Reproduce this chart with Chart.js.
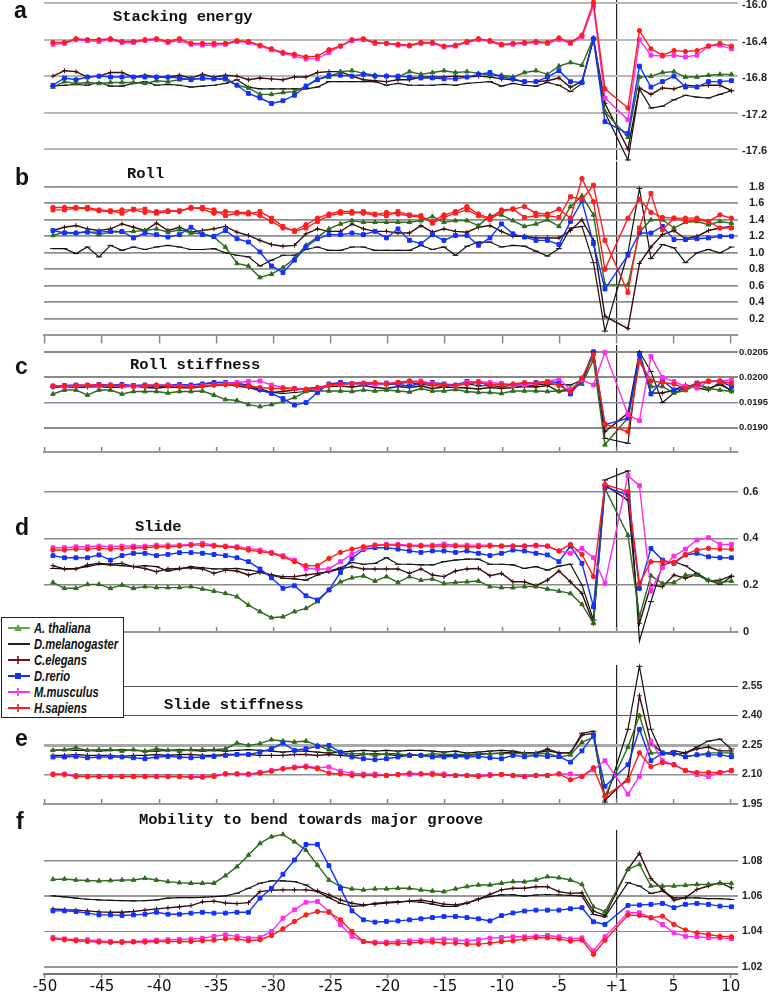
<!DOCTYPE html>
<html>
<head>
<meta charset="utf-8">
<title>DNA structural profiles</title>
<script src="https://cdn.jsdelivr.net/npm/chart.js@4.4.1/dist/chart.umd.min.js"></script>
<style>
  html, body { margin: 0; padding: 0; background: #fff; }
  #wrap { position: relative; width: 769px; height: 992px; overflow: hidden; background: #fff; }
  #wrap canvas { position: absolute; left: 0; }
  .letter { position: absolute; font: bold 23px "Liberation Sans", Arial, sans-serif; color: #111; line-height: 23px; }
  .ptitle { position: absolute; font: bold 15.5px "Liberation Mono", "Courier New", monospace; color: #111; line-height: 15.5px; white-space: pre; }
  #legend { position: absolute; left: 1px; top: 617px; width: 121px; height: 99px; border: 1.5px solid #222; background: #fff; }
  .lrow { position: absolute; left: 0; height: 16px; width: 121px; }
  .lrow svg { position: absolute; left: 3px; top: 1px; }
  .lrow span { position: absolute; left: 32px; top: 0; font: italic bold 14px "Liberation Sans", sans-serif; color: #111; white-space: nowrap; line-height: 16px; transform: scaleX(0.8); transform-origin: 0 50%; }
</style>
</head>
<body>
<div id="wrap">
  <canvas id="pa"></canvas>
  <canvas id="pb"></canvas>
  <canvas id="pc"></canvas>
  <canvas id="pd"></canvas>
  <canvas id="pe"></canvas>
  <canvas id="pf"></canvas>

  <div class="letter" style="left:14px;top:-1px">a</div>
  <div class="letter" style="left:15px;top:166px">b</div>
  <div class="letter" style="left:15px;top:355px">c</div>
  <div class="letter" style="left:15px;top:516px">d</div>
  <div class="letter" style="left:15px;top:727px">e</div>
  <div class="letter" style="left:16px;top:810px">f</div>

  <div class="ptitle" style="left:113px;top:10px">Stacking energy</div>
  <div class="ptitle" style="left:127px;top:167px">Roll</div>
  <div class="ptitle" style="left:130px;top:358px">Roll stiffness</div>
  <div class="ptitle" style="left:135px;top:520px">Slide</div>
  <div class="ptitle" style="left:164px;top:698px">Slide stiffness</div>
  <div class="ptitle" style="left:139px;top:813px">Mobility to bend towards major groove</div>

  <div id="legend"></div>
</div>

<script>
// Positions along the promoter: index 0..59, index 49 is the gap at the TSS line
const xTickLabels = ['-50', '-45', '-40', '-35', '-30', '-25', '-20', '-15', '-10', '-5', '+1', '5', '10'];
const seriesNames = ['A. thaliana', 'D.melanogaster', 'C.elegans', 'D.rerio', 'M.musculus', 'H.sapiens'];

// a - Stacking energy
const stackTicks = [-17.6, -17.2, -16.8, -16.4, -16.0];
const stackAt = [
  -16.92,-16.86,-16.88,-16.87,-16.88,-16.87,-16.87,-16.87,-16.88,-16.85,
  -16.86,-16.84,-16.83,-16.83,-16.83,-16.84,-16.90,-16.93,-17.00,-17.00,
  -16.98,-16.97,-16.91,-16.83,-16.81,-16.75,-16.74,-16.77,-16.79,-16.80,
  -16.81,-16.75,-16.78,-16.76,-16.74,-16.76,-16.75,-16.77,-16.79,-16.79,
  -16.81,-16.76,-16.74,-16.78,-16.69,-16.65,-16.68,-16.38,-17.19,null,
  -17.47,-16.81,-16.80,-16.76,-16.75,-16.81,-16.81,-16.79,-16.78,-16.78];
const stackDm = [
  -16.91,-16.90,-16.89,-16.90,-16.87,-16.91,-16.91,-16.88,-16.86,-16.90,
  -16.89,-16.90,-16.92,-16.91,-16.90,-16.88,-16.84,-16.92,-16.94,-16.94,
  -16.94,-16.94,-16.94,-16.92,-16.86,-16.86,-16.86,-16.86,-16.86,-16.90,
  -16.88,-16.90,-16.90,-16.90,-16.89,-16.90,-16.88,-16.87,-16.86,-16.91,
  -16.88,-16.90,-16.91,-16.87,-16.90,-16.97,-16.88,-16.39,-17.20,null,
  -17.72,-16.94,-17.15,-17.13,-17.06,-17.01,-17.03,-17.04,-17.00,-16.96];
const stackCe = [
  -16.80,-16.74,-16.75,-16.81,-16.80,-16.76,-16.76,-16.81,-16.79,-16.81,
  -16.81,-16.79,-16.82,-16.78,-16.81,-16.79,-16.80,-16.84,-16.82,-16.83,
  -16.84,-16.81,-16.81,-16.76,-16.75,-16.75,-16.80,-16.84,-16.85,-16.86,
  -16.84,-16.84,-16.81,-16.81,-16.81,-16.80,-16.81,-16.80,-16.81,-16.83,
  -16.84,-16.86,-16.86,-16.85,-16.82,-16.92,-16.86,-16.39,-17.10,null,
  -17.60,-16.93,-17.00,-16.93,-16.94,-16.90,-16.91,-16.90,-16.90,-16.96];
const stackDr = [
  -16.90,-16.82,-16.84,-16.81,-16.80,-16.81,-16.81,-16.81,-16.81,-16.81,
  -16.81,-16.82,-16.84,-16.82,-16.83,-16.82,-16.90,-16.99,-17.04,-17.10,
  -17.07,-17.01,-16.91,-16.84,-16.79,-16.79,-16.80,-16.78,-16.80,-16.80,
  -16.80,-16.81,-16.82,-16.82,-16.83,-16.83,-16.81,-16.78,-16.76,-16.81,
  -16.83,-16.86,-16.86,-16.81,-16.74,-16.86,-16.87,-16.39,-17.30,null,
  -17.43,-16.69,-16.92,-16.86,-16.80,-16.92,-16.92,-16.86,-16.86,-16.85];
const stackMm = [
  -16.45,-16.44,-16.40,-16.41,-16.42,-16.40,-16.43,-16.43,-16.41,-16.40,
  -16.43,-16.41,-16.45,-16.46,-16.46,-16.45,-16.42,-16.43,-16.47,-16.51,
  -16.55,-16.58,-16.61,-16.61,-16.54,-16.47,-16.41,-16.40,-16.44,-16.44,
  -16.46,-16.47,-16.44,-16.44,-16.48,-16.47,-16.43,-16.40,-16.42,-16.46,
  -16.45,-16.44,-16.43,-16.44,-16.40,-16.44,-16.37,-16.03,-17.04,null,
  -17.28,-16.40,-16.57,-16.58,-16.57,-16.59,-16.57,-16.47,-16.46,-16.50];
const stackHs = [
  -16.43,-16.43,-16.39,-16.40,-16.40,-16.39,-16.42,-16.42,-16.40,-16.39,
  -16.42,-16.39,-16.44,-16.44,-16.44,-16.44,-16.41,-16.42,-16.46,-16.50,
  -16.54,-16.56,-16.59,-16.58,-16.51,-16.47,-16.40,-16.39,-16.43,-16.44,
  -16.45,-16.46,-16.43,-16.43,-16.47,-16.46,-16.42,-16.39,-16.41,-16.45,
  -16.44,-16.43,-16.42,-16.43,-16.38,-16.43,-16.35,-15.99,-16.94,null,
  -17.15,-16.30,-16.50,-16.57,-16.52,-16.53,-16.52,-16.47,-16.44,-16.47];

// b - Roll
const rollTicks = [0.2, 0.4, 0.6, 0.8, 1.0, 1.2, 1.4, 1.6, 1.8];
const rollAt = [
  1.21,1.25,1.24,1.26,1.22,1.25,1.25,1.26,1.27,1.29,
  1.25,1.28,1.24,1.23,1.19,1.07,0.87,0.84,0.70,0.74,
  0.82,0.93,1.09,1.19,1.29,1.35,1.39,1.37,1.37,1.37,
  1.37,1.37,1.39,1.44,1.37,1.39,1.39,1.33,1.45,1.46,
  1.39,1.32,1.35,1.40,1.32,1.56,1.69,1.46,0.61,null,
  0.61,1.25,1.40,1.40,1.30,1.37,1.38,1.34,1.38,1.36];
const rollDm = [
  1.05,1.05,0.99,1.07,0.95,1.09,1.03,1.07,1.04,1.07,
  1.09,1.07,1.04,1.04,1.05,1.00,0.97,0.95,0.84,0.91,
  0.97,0.97,1.04,1.07,1.03,1.03,1.07,1.07,1.03,1.03,
  1.03,1.03,1.09,1.04,1.07,0.97,1.08,1.13,1.13,1.07,
  1.09,1.08,1.02,0.96,1.05,1.30,1.32,0.88,0.05,null,
  1.00,1.78,0.93,1.10,1.06,0.88,1.00,1.04,1.00,1.07];
const rollCe = [
  1.27,1.31,1.33,1.29,1.27,1.29,1.35,1.31,1.27,1.36,
  1.27,1.31,1.25,1.27,1.29,1.32,1.25,1.21,1.15,1.10,
  1.08,1.09,1.23,1.29,1.26,1.26,1.35,1.29,1.26,1.26,
  1.24,1.24,1.33,1.25,1.29,1.26,1.25,1.31,1.33,1.26,
  1.20,1.20,1.18,1.18,1.18,1.27,1.40,1.15,0.23,null,
  0.08,0.87,1.07,1.22,1.27,1.17,1.20,1.27,1.30,1.32];
const rollDr = [
  1.27,1.24,1.24,1.25,1.25,1.26,1.26,1.18,1.24,1.22,
  1.19,1.22,1.31,1.22,1.20,1.27,1.17,1.13,1.01,0.84,
  0.76,0.91,1.07,1.17,1.22,1.22,1.24,1.22,1.26,1.18,
  1.29,1.15,1.11,1.22,1.15,1.21,1.21,1.09,1.18,1.35,
  1.23,1.19,1.15,1.15,1.10,1.38,1.63,1.11,0.56,null,
  0.97,1.24,1.24,1.32,1.16,1.16,1.17,1.18,1.20,1.20];
const rollMm = [
  1.52,1.52,1.54,1.55,1.52,1.51,1.48,1.53,1.53,1.48,
  1.50,1.51,1.54,1.55,1.52,1.45,1.48,1.47,1.50,1.42,
  1.32,1.26,1.30,1.38,1.45,1.48,1.48,1.50,1.47,1.45,
  1.50,1.46,1.45,1.36,1.43,1.48,1.52,1.45,1.40,1.50,
  1.53,1.43,1.45,1.45,1.43,1.68,1.65,1.82,1.15,null,
  0.52,1.30,1.72,1.28,1.42,1.38,1.40,1.38,1.30,1.30];
const rollHs = [
  1.55,1.55,1.55,1.53,1.51,1.50,1.52,1.52,1.49,1.50,
  1.51,1.50,1.55,1.53,1.48,1.50,1.49,1.49,1.45,1.38,
  1.30,1.27,1.34,1.42,1.47,1.50,1.50,1.48,1.46,1.49,
  1.47,1.45,1.43,1.38,1.46,1.50,1.56,1.47,1.42,1.52,
  1.53,1.56,1.48,1.47,1.53,1.42,1.90,1.62,0.80,null,
  1.42,1.65,1.49,1.43,1.42,1.42,1.42,1.38,1.46,1.42];

// c - Roll stiffness
const rollStTicks = [0.0190, 0.0195, 0.0200, 0.0205];
const rollStAt = [
  0.01967,0.01975,0.01975,0.01965,0.01975,0.01975,0.01967,0.01972,0.01972,0.01972,
  0.01969,0.01972,0.01972,0.01973,0.01965,0.01956,0.01954,0.01946,0.01942,0.01946,
  0.01952,0.01960,0.01972,0.01973,0.01973,0.01973,0.01972,0.01975,0.01973,0.01975,
  0.01973,0.01971,0.01978,0.01973,0.01973,0.01976,0.01972,0.01970,0.01970,0.01968,
  0.01973,0.01973,0.01973,0.01972,0.01973,0.01978,0.01987,0.02035,0.01866,null,
  0.01920,0.02035,0.01982,0.01982,0.01969,0.01974,0.01985,0.01978,0.01975,0.01972];
const rollStDm = [
  0.01982,0.01982,0.01984,0.01982,0.01985,0.01983,0.01984,0.01982,0.01983,0.01982,
  0.01983,0.01981,0.01985,0.01987,0.01989,0.01990,0.01988,0.01985,0.01978,0.01970,
  0.01968,0.01970,0.01972,0.01976,0.01985,0.01987,0.01988,0.01990,0.01988,0.01986,
  0.01988,0.01990,0.01986,0.01984,0.01982,0.01985,0.01988,0.01983,0.01984,0.01981,
  0.01985,0.01982,0.01985,0.01987,0.01986,0.01985,0.01995,0.02051,0.01879,null,
  0.01869,0.02051,0.02012,0.01950,0.01969,0.01979,0.01987,0.01979,0.01985,0.01975];
const rollStCe = [
  0.01980,0.01982,0.01980,0.01981,0.01982,0.01980,0.01981,0.01983,0.01980,0.01979,
  0.01981,0.01980,0.01979,0.01982,0.01984,0.01986,0.01983,0.01980,0.01974,0.01970,
  0.01972,0.01975,0.01978,0.01980,0.01982,0.01983,0.01981,0.01984,0.01980,0.01978,
  0.01982,0.01980,0.01983,0.01978,0.01981,0.01980,0.01979,0.01977,0.01980,0.01978,
  0.01980,0.01982,0.01981,0.01984,0.01972,0.01975,0.01990,0.02048,0.01892,null,
  0.01929,0.02050,0.01969,0.01969,0.01975,0.01985,0.01979,0.01975,0.01990,0.01972];
const rollStDr = [
  0.01982,0.01984,0.01985,0.01984,0.01986,0.01985,0.01986,0.01984,0.01985,0.01984,
  0.01985,0.01986,0.01985,0.01987,0.01990,0.01990,0.01988,0.01983,0.01976,0.01968,
  0.01958,0.01945,0.01950,0.01970,0.01987,0.01990,0.01988,0.01987,0.01986,0.01989,
  0.01986,0.01983,0.01988,0.01990,0.01987,0.01985,0.01992,0.01990,0.01985,0.01987,
  0.01985,0.01988,0.01990,0.01992,0.01990,0.01967,0.01995,0.02051,0.01906,null,
  0.01919,0.02045,0.01967,0.01995,0.01975,0.01979,0.01989,0.01992,0.01992,0.01982];
const rollStMm = [
  0.01983,0.01982,0.01983,0.01984,0.01983,0.01985,0.01983,0.01982,0.01983,0.01984,
  0.01985,0.01983,0.01982,0.01984,0.01985,0.01988,0.01990,0.01992,0.01993,0.01985,
  0.01980,0.01978,0.01976,0.01978,0.01984,0.01986,0.01988,0.01989,0.01986,0.01988,
  0.01990,0.01992,0.01993,0.01988,0.01985,0.01983,0.01990,0.01992,0.01990,0.01988,
  0.01984,0.01986,0.01988,0.01992,0.01997,0.01976,0.01995,0.01985,0.02050,null,
  0.01926,0.01914,0.02042,0.02000,0.01992,0.01982,0.01979,0.01992,0.01993,0.01995];
const rollStHs = [
  0.01983,0.01983,0.01984,0.01985,0.01985,0.01984,0.01984,0.01983,0.01984,0.01985,
  0.01983,0.01982,0.01981,0.01983,0.01985,0.01986,0.01985,0.01983,0.01980,0.01978,
  0.01978,0.01978,0.01975,0.01980,0.01985,0.01987,0.01988,0.01988,0.01990,0.01987,
  0.01990,0.01993,0.01990,0.01986,0.01985,0.01984,0.01987,0.01990,0.01986,0.01985,
  0.01987,0.01990,0.01988,0.01990,0.01984,0.01972,0.01999,0.02045,0.01907,null,
  0.01892,0.02032,0.01993,0.01990,0.01987,0.01978,0.01987,0.01993,0.01993,0.01988];

// d - Slide
const slideTicks = [0, 0.2, 0.4, 0.6];
const slideAt = [
  0.211,0.186,0.186,0.203,0.203,0.186,0.200,0.186,0.193,0.189,
  0.189,0.189,0.193,0.183,0.174,0.164,0.150,0.114,0.086,0.060,
  0.064,0.086,0.100,0.129,0.179,0.214,0.231,0.239,0.217,0.236,
  0.211,0.236,0.221,0.226,0.207,0.211,0.214,0.217,0.193,0.189,
  0.189,0.193,0.193,0.183,0.174,0.164,0.117,0.036,0.614,null,
  0.414,0.064,0.240,0.207,0.211,0.243,0.243,0.221,0.211,0.217];
const slideDm = [
  0.271,0.269,0.271,0.279,0.289,0.286,0.283,0.279,0.283,0.279,
  0.260,0.269,0.279,0.274,0.269,0.269,0.271,0.264,0.257,0.243,
  0.229,0.226,0.221,0.243,0.260,0.274,0.297,0.289,0.293,0.317,
  0.289,0.289,0.286,0.286,0.300,0.307,0.311,0.311,0.289,0.289,
  0.286,0.271,0.279,0.264,0.281,0.289,0.200,0.050,0.650,null,
  0.689,-0.040,0.129,0.286,0.300,0.283,0.250,0.221,0.203,0.236];
const slideCe = [
  0.283,0.269,0.269,0.286,0.293,0.289,0.293,0.279,0.271,0.257,
  0.269,0.271,0.274,0.269,0.250,0.264,0.260,0.243,0.254,0.243,
  0.236,0.236,0.243,0.250,0.257,0.269,0.279,0.269,0.269,0.269,
  0.269,0.250,0.269,0.243,0.236,0.260,0.269,0.271,0.240,0.250,
  0.214,0.214,0.197,0.221,0.260,0.214,0.164,0.036,0.629,null,
  0.564,0.036,0.200,0.193,0.243,0.229,0.246,0.217,0.221,0.239];
const slideDr = [
  0.326,0.317,0.317,0.317,0.329,0.307,0.326,0.336,0.336,0.326,
  0.331,0.339,0.339,0.336,0.331,0.326,0.317,0.300,0.269,0.231,
  0.186,0.197,0.154,0.136,0.179,0.254,0.314,0.353,0.360,0.360,
  0.354,0.346,0.340,0.346,0.346,0.340,0.346,0.336,0.326,0.336,
  0.350,0.346,0.336,0.329,0.300,0.367,0.293,0.107,0.621,null,
  0.586,0.186,0.357,0.307,0.293,0.329,0.336,0.321,0.317,0.317];
const slideMm = [
  0.360,0.360,0.364,0.364,0.367,0.364,0.367,0.367,0.367,0.371,
  0.371,0.371,0.374,0.379,0.371,0.367,0.364,0.357,0.350,0.340,
  0.326,0.307,0.271,0.269,0.269,0.300,0.331,0.357,0.371,0.374,
  0.374,0.371,0.371,0.371,0.376,0.371,0.371,0.371,0.371,0.367,
  0.367,0.367,0.367,0.367,0.346,0.336,0.357,0.317,0.207,null,
  0.669,0.626,0.174,0.274,0.324,0.354,0.393,0.403,0.374,0.374];
const slideHs = [
  0.350,0.350,0.354,0.354,0.357,0.354,0.357,0.360,0.360,0.364,
  0.364,0.367,0.371,0.371,0.367,0.364,0.360,0.350,0.343,0.336,
  0.321,0.300,0.283,0.283,0.314,0.340,0.354,0.364,0.371,0.371,
  0.371,0.367,0.367,0.367,0.367,0.367,0.364,0.364,0.367,0.367,
  0.367,0.367,0.371,0.367,0.346,0.374,0.331,0.236,0.631,null,
  0.600,0.207,0.300,0.300,0.297,0.331,0.350,0.357,0.354,0.354];

// e - Slide stiffness
const slideStTicks = [1.95, 2.10, 2.25, 2.40, 2.55];
const slideStAt = [
  2.223,2.226,2.236,2.223,2.226,2.226,2.219,2.226,2.219,2.231,
  2.223,2.219,2.226,2.226,2.226,2.231,2.260,2.248,2.257,2.277,
  2.270,2.265,2.270,2.248,2.226,2.209,2.206,2.206,2.197,2.206,
  2.206,2.197,2.197,2.206,2.202,2.202,2.202,2.206,2.206,2.206,
  2.206,2.205,2.205,2.208,2.188,2.200,2.264,2.290,1.990,null,
  2.240,2.400,2.210,2.210,2.210,2.190,2.200,2.210,2.210,2.210];
const slideStDm = [
  2.223,2.226,2.223,2.223,2.219,2.223,2.226,2.223,2.219,2.219,
  2.223,2.226,2.223,2.219,2.223,2.219,2.223,2.226,2.223,2.219,
  2.214,2.219,2.219,2.214,2.209,2.214,2.219,2.223,2.219,2.223,
  2.219,2.223,2.223,2.219,2.214,2.219,2.209,2.214,2.219,2.223,
  2.219,2.210,2.210,2.220,2.210,2.210,2.310,2.320,1.960,null,
  2.330,2.650,2.330,2.200,2.220,2.210,2.240,2.270,2.280,2.230];
const slideStCe = [
  2.197,2.197,2.202,2.197,2.197,2.197,2.192,2.197,2.197,2.202,
  2.197,2.202,2.202,2.197,2.197,2.202,2.202,2.202,2.197,2.197,
  2.197,2.202,2.202,2.197,2.202,2.197,2.192,2.202,2.206,2.202,
  2.197,2.202,2.197,2.192,2.197,2.197,2.197,2.202,2.206,2.209,
  2.214,2.210,2.210,2.230,2.210,2.210,2.300,2.310,1.970,null,
  2.080,2.500,2.260,2.210,2.200,2.210,2.230,2.240,2.220,2.220];
const slideStDr = [
  2.189,2.189,2.192,2.185,2.189,2.189,2.189,2.185,2.180,2.189,
  2.192,2.189,2.185,2.189,2.192,2.197,2.202,2.202,2.214,2.231,
  2.260,2.223,2.231,2.243,2.248,2.214,2.189,2.180,2.175,2.180,
  2.189,2.197,2.197,2.189,2.189,2.192,2.189,2.192,2.185,2.180,
  2.197,2.190,2.198,2.192,2.192,2.163,2.220,2.300,2.040,null,
  2.150,2.330,2.170,2.210,2.210,2.190,2.200,2.200,2.200,2.190];
const slideStMm = [
  2.103,2.103,2.095,2.090,2.090,2.090,2.090,2.090,2.090,2.090,
  2.090,2.090,2.090,2.090,2.095,2.103,2.103,2.100,2.112,2.120,
  2.129,2.138,2.143,2.134,2.138,2.117,2.107,2.103,2.103,2.095,
  2.100,2.100,2.103,2.107,2.103,2.095,2.095,2.095,2.100,2.100,
  2.095,2.090,2.095,2.095,2.103,2.103,2.090,2.124,2.170,null,
  2.000,2.090,2.270,2.170,2.150,2.120,2.100,2.090,2.110,2.120];
const slideStHs = [
  2.100,2.100,2.090,2.090,2.090,2.090,2.090,2.090,2.090,2.090,
  2.090,2.090,2.086,2.086,2.090,2.103,2.103,2.103,2.107,2.117,
  2.129,2.134,2.138,2.129,2.107,2.103,2.095,2.095,2.095,2.095,
  2.100,2.107,2.103,2.100,2.095,2.095,2.095,2.090,2.095,2.100,
  2.095,2.090,2.095,2.095,2.103,2.073,2.090,2.134,1.990,null,
  2.070,2.210,2.140,2.160,2.150,2.120,2.110,2.110,2.110,2.120];

// f - Mobility to bend towards major groove
const bendTicks = [1.02, 1.04, 1.06, 1.08];
const bendAt = [
  1.0696,1.0698,1.0692,1.0689,1.0687,1.0689,1.0692,1.0692,1.0702,1.0692,
  1.0683,1.0677,1.0674,1.0674,1.0674,1.0717,1.0768,1.0834,1.0900,1.0938,
  1.0951,1.0909,1.0862,1.0777,1.0692,1.0655,1.0642,1.0636,1.0642,1.0642,
  1.0645,1.0645,1.0636,1.0630,1.0626,1.0642,1.0655,1.0664,1.0664,1.0674,
  1.0683,1.0682,1.0692,1.0711,1.0705,1.0692,1.0667,1.0540,1.0512,null,
  1.0753,1.0781,1.0658,1.0658,1.0658,1.0662,1.0667,1.0667,1.0673,1.0673];
const bendDm = [
  1.0602,1.0596,1.0589,1.0583,1.0579,1.0577,1.0575,1.0574,1.0575,1.0579,
  1.0589,1.0592,1.0592,1.0594,1.0598,1.0602,1.0617,1.0645,1.0674,1.0687,
  1.0687,1.0683,1.0664,1.0626,1.0592,1.0560,1.0542,1.0547,1.0560,1.0566,
  1.0570,1.0570,1.0566,1.0555,1.0542,1.0542,1.0560,1.0585,1.0598,1.0608,
  1.0608,1.0601,1.0607,1.0610,1.0607,1.0605,1.0601,1.0497,1.0483,null,
  1.0677,1.0658,1.0616,1.0629,1.0591,1.0591,1.0591,1.0586,1.0586,1.0582];
const bendCe = [
  1.0528,1.0523,1.0521,1.0517,1.0511,1.0509,1.0509,1.0513,1.0521,1.0528,
  1.0534,1.0540,1.0547,1.0568,1.0572,1.0562,1.0558,1.0564,1.0626,1.0634,
  1.0636,1.0636,1.0636,1.0630,1.0608,1.0579,1.0560,1.0551,1.0555,1.0562,
  1.0566,1.0573,1.0577,1.0568,1.0555,1.0551,1.0562,1.0583,1.0611,1.0636,
  1.0645,1.0645,1.0654,1.0654,1.0626,1.0616,1.0620,1.0516,1.0491,null,
  1.0753,1.0844,1.0700,1.0639,1.0578,1.0592,1.0639,1.0658,1.0677,1.0648];
const bendDr = [
  1.0517,1.0517,1.0513,1.0504,1.0494,1.0494,1.0491,1.0494,1.0498,1.0509,
  1.0498,1.0498,1.0504,1.0509,1.0504,1.0504,1.0509,1.0509,1.0589,1.0645,
  1.0725,1.0806,1.0894,1.0894,1.0774,1.0645,1.0517,1.0466,1.0453,1.0457,
  1.0460,1.0466,1.0472,1.0479,1.0485,1.0485,1.0479,1.0472,1.0460,1.0490,
  1.0505,1.0516,1.0521,1.0521,1.0521,1.0529,1.0535,1.0455,1.0440,null,
  1.0548,1.0550,1.0554,1.0559,1.0535,1.0554,1.0559,1.0554,1.0544,1.0540];
const bendMm = [
  1.0366,1.0358,1.0353,1.0353,1.0347,1.0343,1.0343,1.0343,1.0347,1.0351,
  1.0353,1.0355,1.0357,1.0362,1.0372,1.0381,1.0372,1.0362,1.0366,1.0400,
  1.0475,1.0523,1.0566,1.0570,1.0513,1.0438,1.0372,1.0343,1.0340,1.0340,
  1.0343,1.0347,1.0351,1.0353,1.0357,1.0353,1.0347,1.0353,1.0362,1.0366,
  1.0370,1.0370,1.0373,1.0377,1.0370,1.0358,1.0364,1.0290,1.0370,null,
  1.0506,1.0506,1.0478,1.0440,1.0392,1.0373,1.0370,1.0364,1.0364,1.0358];
const bendHs = [
  1.0358,1.0353,1.0347,1.0343,1.0340,1.0338,1.0338,1.0340,1.0340,1.0343,
  1.0343,1.0343,1.0343,1.0347,1.0351,1.0358,1.0358,1.0347,1.0353,1.0377,
  1.0415,1.0457,1.0494,1.0513,1.0509,1.0466,1.0400,1.0343,1.0334,1.0332,
  1.0332,1.0334,1.0340,1.0340,1.0334,1.0334,1.0328,1.0328,1.0334,1.0343,
  1.0347,1.0358,1.0364,1.0364,1.0358,1.0345,1.0351,1.0270,1.0350,null,
  1.0493,1.0491,1.0478,1.0487,1.0440,1.0408,1.0392,1.0383,1.0373,1.0370];

// styles
const seriesColors = ['#2e6b1c', '#111111', '#3a0c0c', '#1230ff', '#ff2cf0', '#ff1c1c'];
const seriesPoints = ['triangle', 'line', 'cross', 'rect', 'rect', 'circle'];
const seriesRadius = [2.6, 3, 2.4, 2.7, 2.7, 2.2];
const seriesOrder = [3, 5, 4, 2, 1, 0];
const legendColors = ['#62a84c', '#1a2a1a', '#7a1010', '#1230ff', '#ff2cf0', '#ff1c1c'];

const TSS = 10; // index of the "+1" tick
const xTickPos = xTickLabels.map((_, k) => 49 - 4.97 * (TSS - k));
const X_MIN = -0.78, X_MAX = 59.57;

const panels = [
  { id: 'pa', top: 0, bottom: 160, min: -17.7208, max: -15.9638, ticks: stackTicks,
    fmt: v => v.toFixed(1), series: [stackAt, stackDm, stackCe, stackDr, stackMm, stackHs],
    gridColors: ['#b8b8b8', '#b8b8b8', '#b8b8b8', '#b8b8b8', '#b8b8b8'], gridWidths: [2, 2, 2, 2, 2],
    axis: 'none', labelPad: 4, labelSize: 11, labelOffset: 2 },
  { id: 'pb', top: 160, bottom: 337, min: -0.0025, max: 2.1062, ticks: rollTicks,
    fmt: v => v.toFixed(1), series: [rollAt, rollDm, rollCe, rollDr, rollMm, rollHs],
    gridColors: rollTicks.map(() => '#8e8e8e'), gridWidths: rollTicks.map(() => 1.8),
    axis: 'down', labelPad: 11, labelSize: 11, colorOverride: { 4: '#ff2020' } },
  { id: 'pc', top: 345, bottom: 452, min: 0.018517, max: 0.020645, ticks: rollStTicks,
    fmt: v => v.toFixed(4), series: [rollStAt, rollStDm, rollStCe, rollStDr, rollStMm, rollStHs],
    gridColors: ['#8a8a8a', '#8a8aa8', '#8a8a8a', '#8a8a8a'], gridWidths: [2, 1.5, 2, 2],
    axis: 'up', labelPad: 1, labelSize: 9.5 },
  { id: 'pd', top: 468, bottom: 632, min: -0.0013, max: 0.7016, ticks: slideTicks,
    fmt: v => (v === 0 ? '0' : v.toFixed(1)), series: [slideAt, slideDm, slideCe, slideDr, slideMm, slideHs],
    gridColors: ['#999', '#8a8a8a', '#8a8a8a', '#8a8a8a'], gridWidths: [2, 1.6, 1.6, 1.6],
    axis: 'up', labelPad: 5, labelSize: 11 },
  { id: 'pe', top: 665, bottom: 804, min: 1.95, max: 2.6568, ticks: slideStTicks,
    fmt: v => v.toFixed(2), series: [slideStAt, slideStDm, slideStCe, slideStDr, slideStMm, slideStHs],
    gridColors: ['#999', '#909090', '#a8a8a8', '#555', '#555'], gridWidths: [2, 1.5, 3, 1, 1],
    axis: 'up', labelPad: 4, labelSize: 10.5 },
  { id: 'pf', top: 830, bottom: 974, min: 1.01586, max: 1.0976, ticks: bendTicks,
    fmt: v => v.toFixed(2), series: [bendAt, bendDm, bendCe, bendDr, bendMm, bendHs],
    gridColors: ['#999', '#7d86b8', '#999', '#888'], gridWidths: [2, 1, 2, 1.5],
    axis: 'labels', labelPad: 4, labelSize: 10.5 }
];

function xScale(kind) {
  const onlyTss = kind === 'none';
  const showLabels = kind === 'labels';
  let tickLen = 0;
  if (kind === 'down') tickLen = 8;
  if (kind === 'up') tickLen = -5;
  if (kind === 'labels') tickLen = 4;
  return {
    type: 'linear',
    min: X_MIN,
    max: X_MAX,
    afterBuildTicks: ax => {
      ax.ticks = onlyTss ? [{ value: xTickPos[TSS] }] : xTickPos.map(v => ({ value: v }));
    },
    afterFit: ax => { ax.height = showLabels ? 18 : 0; },
    ticks: {
      display: showLabels,
      autoSkip: false,
      maxRotation: 0,
      padding: 0,
      color: '#111',
      font: { family: 'DejaVu Sans', size: 15 },
      callback: (v, i) => xTickLabels[i]
    },
    grid: {
      drawTicks: !onlyTss,
      tickLength: tickLen,
      tickColor: '#888',
      tickWidth: 1.5,
      color: ctx => (onlyTss || ctx.index === TSS ? '#222' : 'rgba(0,0,0,0)'),
      lineWidth: 1.2
    },
    border: { display: !onlyTss, color: kind === 'labels' ? '#777' : '#999', width: 2 }
  };
}

function buildPanel(p) {
  const cv = document.getElementById(p.id);
  const padT = 16;
  const last = p.axis === 'labels';
  const padB = last ? 0 : 16;
  const h = (p.bottom - p.top) + padT + (last ? 18 : padB);
  cv.width = 769;
  cv.height = h;
  cv.style.width = '769px';
  cv.style.height = h + 'px';
  cv.style.top = (p.top - padT) + 'px';

  const datasets = p.series.map((arr, s) => {
    const col = (p.colorOverride && p.colorOverride[s]) || seriesColors[s];
    return {
      label: seriesNames[s],
      data: arr.map((v, i) => ({ x: i, y: v })),
      borderColor: col,
      backgroundColor: col,
      borderWidth: s === 1 ? 1.2 : 1.4,
      pointStyle: seriesPoints[s],
      pointRadius: seriesRadius[s],
      pointBorderWidth: 1,
      pointBackgroundColor: col,
      pointBorderColor: col,
      spanGaps: true,
      clip: false,
      order: seriesOrder[s],
      tension: 0
    };
  });

  new Chart(cv, {
    type: 'line',
    data: { datasets },
    options: {
      responsive: false,
      animation: false,
      devicePixelRatio: 1,
      events: [],
      layout: { padding: { left: 44, right: 0, top: padT, bottom: padB } },
      plugins: { legend: { display: false }, tooltip: { enabled: false } },
      scales: {
        x: xScale(p.axis),
        y: {
          position: 'right',
          min: p.min,
          max: p.max,
          afterBuildTicks: ax => { ax.ticks = p.ticks.map(v => ({ value: v })); },
          afterFit: ax => { ax.width = 31; },
          ticks: {
            autoSkip: false,
            padding: p.labelPad,
            labelOffset: p.labelOffset || 0,
            color: '#222',
            font: { family: 'Liberation Sans', size: p.labelSize, weight: 'bold' },
            callback: v => p.fmt(v)
          },
          grid: {
            drawTicks: false,
            color: ctx => p.gridColors[ctx.index] || '#999',
            lineWidth: ctx => p.gridWidths[ctx.index] || 1.5
          },
          border: { display: false }
        }
      }
    }
  });
}

function buildLegend() {
  const el = document.getElementById('legend');
  seriesNames.forEach((name, s) => {
    const c = legendColors[s];
    let mark = '';
    if (s === 0) mark = `<polygon points="13,3 17,10 9,10" fill="${c}"/>`;
    if (s === 2 || s === 4 || s === 5) mark = `<path d="M13 3 V11 M9 7 H17" stroke="${c}" stroke-width="1.6"/>`;
    if (s === 3) mark = `<rect x="10" y="4" width="6" height="6" fill="${c}"/>`;
    const row = document.createElement('div');
    row.className = 'lrow';
    row.style.top = (2 + s * 16) + 'px';
    row.innerHTML = `<svg width="28" height="14"><line x1="3" y1="7" x2="25" y2="7" stroke="${c}" stroke-width="2"/>${mark}</svg><span>${name}</span>`;
    el.appendChild(row);
  });
}

function init() {
  panels.forEach(buildPanel);
  buildLegend();
}

document.addEventListener('DOMContentLoaded', init);
</script>
</body>
</html>
